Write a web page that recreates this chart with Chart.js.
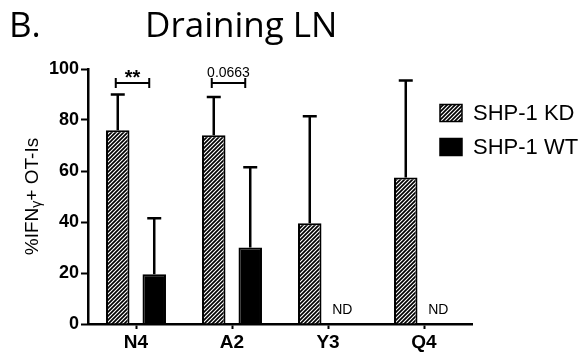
<!DOCTYPE html>
<html>
<head>
<meta charset="utf-8">
<script src="https://cdn.jsdelivr.net/npm/chart.js@4/dist/chart.umd.min.js"></script>
<style>
  html, body { margin: 0; padding: 0; background: #fff; }
</style>
</head>
<body>
<canvas id="chart" width="586" height="358"></canvas>
<script>
const categories = ['N4', 'A2', 'Y3', 'Q4'];
const kdMeans = [76, 74, 39.5, 57.5];
const kdSd = [14, 15, 42, 38];
const wtMeans = [19.5, 30, null, null];
const wtSd = [22, 31.5, null, null];
const yTicks = [0, 20, 40, 60, 80, 100];
const sigCats = ['N4', 'A2'];
const sigLabels = ['**', '0.0663'];
const sigLevel = [94.5, 94.5];
const ndCats = ['Y3', 'Q4'];
const seriesNames = ['SHP-1 KD', 'SHP-1 WT'];

const FONT = '"Liberation Sans", Arial, sans-serif';

document.addEventListener('DOMContentLoaded', () => {
    const canvas = document.getElementById('chart');
    const ctx = canvas.getContext('2d');

    // diagonal hatch for the KD bars
    const tile = document.createElement('canvas');
    tile.width = 4; tile.height = 4;
    const t = tile.getContext('2d');
    t.fillStyle = '#fff';
    t.fillRect(0, 0, 4, 4);
    t.strokeStyle = '#000';
    t.lineWidth = 1.7;
    t.beginPath();
    t.moveTo(-1, 5); t.lineTo(5, -1);
    t.moveTo(-1, 1); t.lineTo(1, -1);
    t.moveTo(3, 5); t.lineTo(5, 3);
    t.stroke();
    const hatch = ctx.createPattern(tile, 'repeat');

    const extras = {
        id: 'extras',
        afterDatasetsDraw(chart) {
            const c = chart.ctx;
            const { x, y } = chart.scales;
            const area = chart.chartArea;
            c.save();
            c.strokeStyle = '#000';
            c.fillStyle = '#000';
            c.lineWidth = 2.5;

            // error bars (upper only)
            [kdSd, wtSd].forEach((sd, di) => {
                const meta = chart.getDatasetMeta(di);
                const vals = chart.data.datasets[di].data;
                meta.data.forEach((bar, i) => {
                    if (sd[i] == null || vals[i] == null) return;
                    const top = y.getPixelForValue(vals[i] + sd[i]);
                    c.beginPath();
                    c.moveTo(bar.x, bar.y);
                    c.lineTo(bar.x, top);
                    c.moveTo(bar.x - 7, top);
                    c.lineTo(bar.x + 7, top);
                    c.stroke();
                });
            });

            const wtX = i => 2 * x.getPixelForValue(i) - chart.getDatasetMeta(0).data[i].x;

            // significance brackets
            c.lineWidth = 2;
            sigCats.forEach((cat, k) => {
                const i = categories.indexOf(cat);
                const x1 = chart.getDatasetMeta(0).data[i].x - 2;
                const x2 = wtX(i) - 5;
                const yy = y.getPixelForValue(sigLevel[k]);
                c.beginPath();
                c.moveTo(x1, yy); c.lineTo(x2, yy);
                c.moveTo(x1, yy - 5); c.lineTo(x1, yy + 5);
                c.moveTo(x2, yy - 5); c.lineTo(x2, yy + 5);
                c.stroke();
                c.textAlign = 'center';
                c.textBaseline = 'alphabetic';
                if (sigLabels[k] === '**') {
                    c.font = 'bold 20px ' + FONT;
                    c.fillText(sigLabels[k], (x1 + x2) / 2, yy + 1);
                } else {
                    c.font = '14px ' + FONT;
                    c.fillText(sigLabels[k], (x1 + x2) / 2, yy - 6);
                }
            });

            // not detected labels
            c.font = '14px ' + FONT;
            c.textAlign = 'center';
            c.textBaseline = 'alphabetic';
            ndCats.forEach(cat => {
                const i = categories.indexOf(cat);
                c.fillText('ND', wtX(i) - 4, area.bottom - 10);
            });

            // titles
            c.textAlign = 'left';
            c.font = '35px "Open Sans", sans-serif';
            c.fillText('B.', 9, 37);
            c.fillText('Draining LN', 145, 37);

            // y axis title with subscript gamma
            c.save();
            c.translate(33, (area.top + area.bottom) / 2);
            c.rotate(-Math.PI / 2);
            const parts = [['%IFN', 19, 0], ['\u03b3', 14, 4], ['+ OT-Is', 19, 0]];
            let total = 0;
            parts.forEach(p => { c.font = p[1] + 'px ' + FONT; p.push(c.measureText(p[0]).width); total += p[3]; });
            let px = -total / 2;
            c.textBaseline = 'middle';
            parts.forEach(p => {
                c.font = p[1] + 'px ' + FONT;
                c.fillText(p[0], px, p[2]);
                px += p[3];
            });
            c.restore();

            // legend
            const rows = [113, 147];
            chart.data.datasets.forEach((ds, di) => {
                const cy = rows[di];
                c.fillStyle = ds.backgroundColor;
                c.fillRect(440, cy - 8.5, 22, 17);
                c.lineWidth = 1.5;
                c.strokeRect(440, cy - 8.5, 22, 17);
                c.fillStyle = '#000';
                c.font = '22px ' + FONT;
                c.textAlign = 'left';
                c.textBaseline = 'middle';
                c.fillText(ds.label, 473, cy + 1);
            });
            c.restore();
        }
    };

    new Chart(ctx, {
        type: 'bar',
        data: {
            labels: categories,
            datasets: [
                { label: seriesNames[0], data: kdMeans, backgroundColor: hatch, borderColor: '#000', borderWidth: 2 },
                { label: seriesNames[1], data: wtMeans, backgroundColor: '#000', borderColor: '#000', borderWidth: 2 }
            ]
        },
        options: {
            responsive: false,
            animation: false,
            categoryPercentage: 0.76,
            barPercentage: 0.644,
            layout: { padding: { left: 38, right: 114, top: 69, bottom: 0 } },
            plugins: { legend: { display: false }, tooltip: { enabled: false } },
            scales: {
                x: {
                    grid: { drawOnChartArea: false, offset: false, tickLength: 5, tickWidth: 2, color: '#000' },
                    border: { color: '#000', width: 2.5 },
                    ticks: { color: '#000', padding: 2, font: { family: FONT, size: 19, weight: 'bold' } },
                    afterFit(s) { s.height = 34; }
                },
                y: {
                    min: 0, max: 100,
                    afterBuildTicks(s) { s.ticks = yTicks.map(v => ({ value: v })); },
                    grid: { drawOnChartArea: false, tickLength: 7, tickWidth: 2, color: '#000' },
                    border: { color: '#000', width: 2.5 },
                    ticks: { color: '#000', padding: 2, font: { family: FONT, size: 18, weight: 'bold' } },
                    afterFit(s) { s.width = 50; }
                }
            }
        },
        plugins: [extras]
    });
});
</script>
</body>
</html>
